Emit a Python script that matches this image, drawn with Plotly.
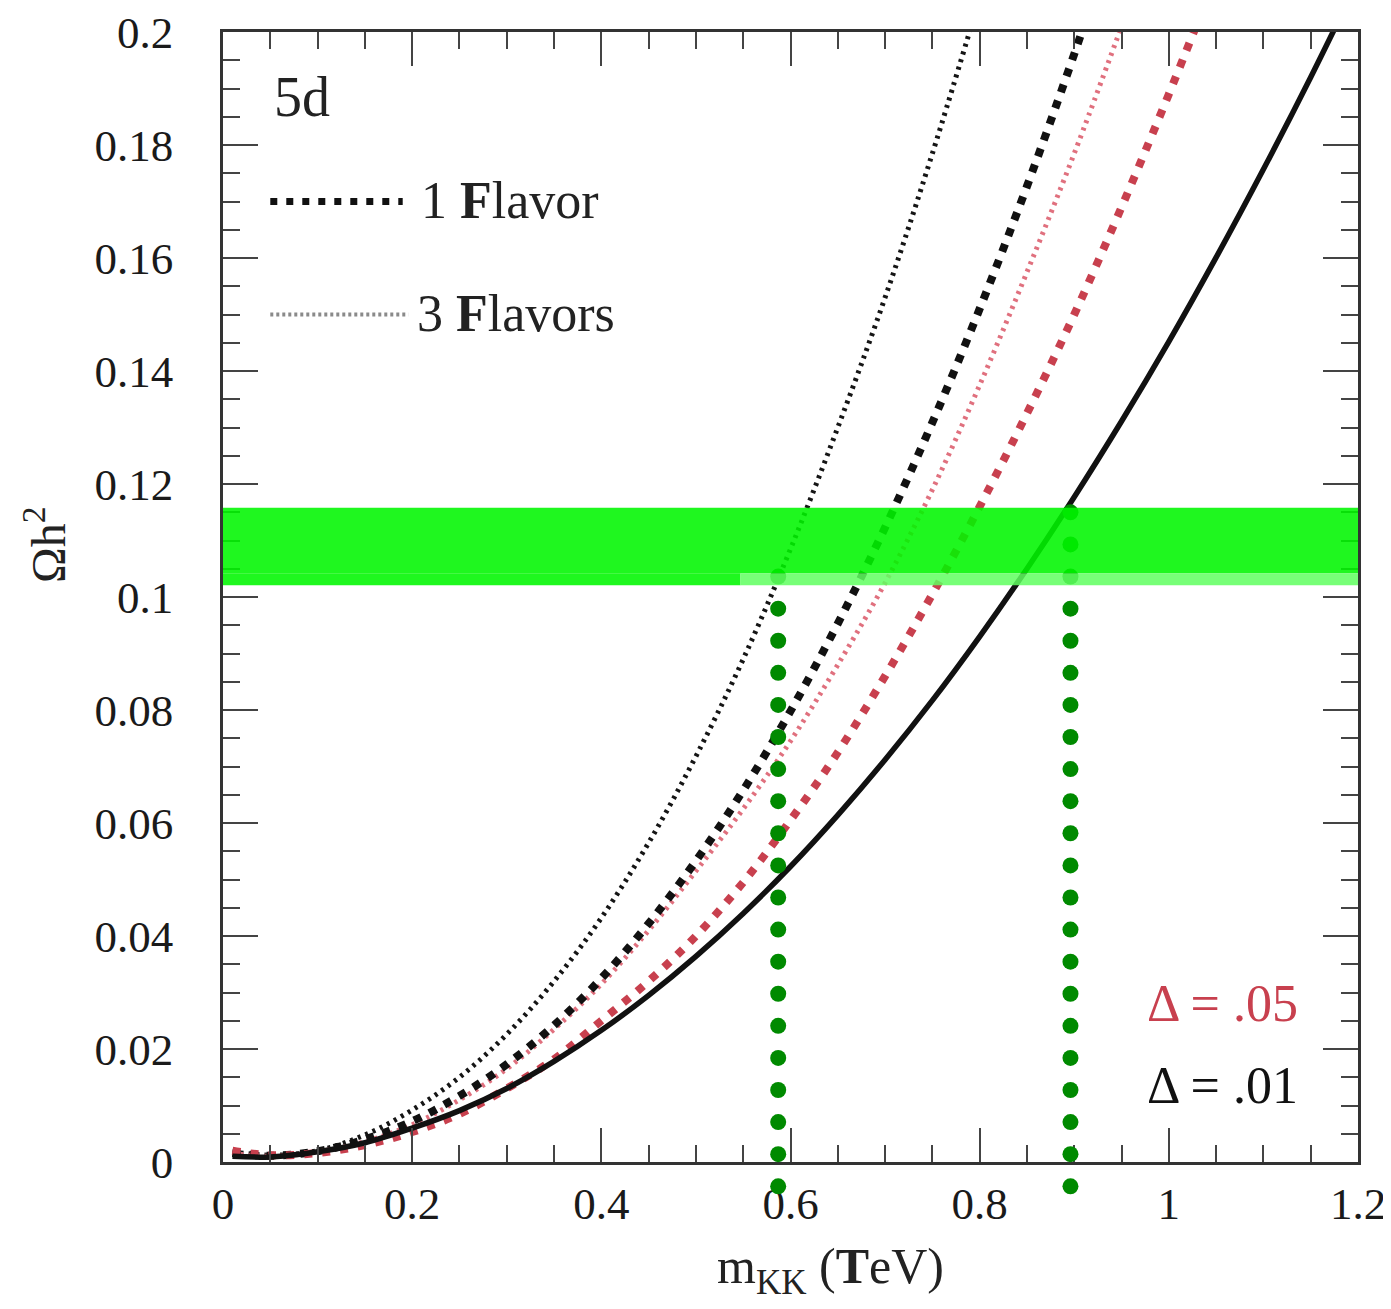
import plotly.graph_objects as go

# ---------------- data ----------------
m_solid = [0.01, 0.05, 0.1, 0.15, 0.2, 0.25, 0.3, 0.35, 0.4, 0.45, 0.5, 0.55, 0.6, 0.65, 0.7,
           0.75, 0.8, 0.85, 0.9, 0.95, 1.0, 1.05, 1.1, 1.15, 1.2]
om_solid = [0.0010, 0.0009, 0.0018, 0.0034, 0.0060, 0.0091, 0.0130, 0.0178, 0.0233, 0.0295,
            0.0364, 0.0440, 0.0523, 0.0614, 0.0712, 0.0817, 0.0930, 0.1050, 0.1177, 0.1311,
            0.1452, 0.1601, 0.1757, 0.1920, 0.2091]

m_3fl_d01 = [0.01, 0.05, 0.1, 0.15, 0.2, 0.25, 0.3, 0.35, 0.4, 0.45, 0.5, 0.55, 0.6, 0.65,
             0.7, 0.75, 0.8]
om_3fl_d01 = [0.0018, 0.0012, 0.0020, 0.0048, 0.0092, 0.0150, 0.0226, 0.0320, 0.0432, 0.0565,
              0.0718, 0.0890, 0.1085, 0.1300, 0.1530, 0.1785, 0.2060]

m_1fl_d01 = [0.01, 0.05, 0.1, 0.15, 0.2, 0.25, 0.3, 0.35, 0.4, 0.45, 0.5, 0.55, 0.6, 0.65,
             0.7, 0.75, 0.8, 0.85, 0.9, 0.95]
om_1fl_d01 = [0.0016, 0.0011, 0.0019, 0.0040, 0.0072, 0.0117, 0.0173, 0.0242, 0.0325, 0.0422,
              0.0533, 0.0658, 0.0798, 0.0953, 0.1123, 0.1309, 0.1510, 0.1727, 0.1961, 0.2211]

m_3fl_d05 = [0.01, 0.05, 0.1, 0.15, 0.2, 0.25, 0.3, 0.35, 0.4, 0.45, 0.5, 0.55, 0.6, 0.65,
             0.7, 0.75, 0.8, 0.85, 0.9, 0.95]
om_3fl_d05 = [0.0015, 0.0010, 0.0018, 0.0036, 0.0066, 0.0110, 0.0165, 0.0235, 0.0315, 0.0410,
              0.0515, 0.0625, 0.0745, 0.0880, 0.1025, 0.1190, 0.1375, 0.1575, 0.1785, 0.2010]

m_1fl_d05 = [0.01, 0.05, 0.1, 0.15, 0.2, 0.25, 0.3, 0.35, 0.4, 0.45, 0.5, 0.55, 0.6, 0.65,
             0.7, 0.75, 0.8, 0.85, 0.9, 0.95, 1.0, 1.05]
om_1fl_d05 = [0.0020, 0.0012, 0.0016, 0.0030, 0.0053, 0.0085, 0.0130, 0.0182, 0.0250, 0.0320,
              0.0400, 0.0495, 0.0605, 0.0725, 0.0860, 0.1005, 0.1160, 0.1325, 0.1500, 0.1690,
              0.1890, 0.2100]

# WMAP band
band_low, band_edge, band_high = 0.1021, 0.1042, 0.1158
band_split_m = 0.547

# vertical markers (allowed mass values)
m_lines = [0.587, 0.896]
line_tops = [0.1037, 0.1150]
dot_bottom = -0.0043
dot_step = 0.00568

x_range = [0, 1.2]
y_range = [0, 0.2]
x_ticks = [0, 0.2, 0.4, 0.6, 0.8, 1.0, 1.2]
y_ticks = [0, 0.02, 0.04, 0.06, 0.08, 0.1, 0.12, 0.14, 0.16, 0.18, 0.2]

# ---------------- layout geometry ----------------
# the page body adds an 8 px margin around the figure
W, H = 1383, 1293
ML, MR, MT, MB = 215, 33, 24, 99
OFF = 8
plot_w = W - ML - MR                      # 1135
plot_h = H - MT - MB                      # 1170
axis_bottom_px = 40                       # main x axis sits 40 px above the paper bottom
y_dom0 = axis_bottom_px / plot_h
y_per_px = (y_range[1] - y_range[0]) / (plot_h - axis_bottom_px)
y2_range = [y_range[0] - axis_bottom_px * y_per_px, y_range[1]]
left_px, bottom_px = OFF + ML, OFF + MT + plot_h


def px_to_paper(px, py):
    return (px - left_px) / plot_w, (bottom_px - py) / plot_h


SERIF = "Liberation Serif, Times New Roman, DejaVu Serif, serif"
BLACK = "#111111"
RED = "#c8404e"
PINK = "#e0707e"
GREEN_DOT = "#008a00"

fig = go.Figure()

fig.add_trace(go.Scatter(x=m_3fl_d01, y=om_3fl_d01, mode="lines", line_shape="spline",
                         line=dict(color="#151515", width=5, dash="3px,5px"), showlegend=False))
fig.add_trace(go.Scatter(x=m_3fl_d05, y=om_3fl_d05, mode="lines", line_shape="spline",
                         line=dict(color=PINK, width=5, dash="3px,5px"), showlegend=False))
fig.add_trace(go.Scatter(x=m_1fl_d01, y=om_1fl_d01, mode="lines", line_shape="spline",
                         line=dict(color=BLACK, width=8, dash="8px,9px"), showlegend=False))
fig.add_trace(go.Scatter(x=m_1fl_d05, y=om_1fl_d05, mode="lines", line_shape="spline",
                         line=dict(color=RED, width=8, dash="8px,10px"), showlegend=False))
fig.add_trace(go.Scatter(x=m_solid, y=om_solid, mode="lines", line_shape="spline",
                         line=dict(color=BLACK, width=5.5), showlegend=False))

# green dotted vertical lines (dots evenly spaced), on an overlay subplot that reaches below the axis
for mx, top in zip(m_lines, line_tops):
    n = int(round((top - dot_bottom) / dot_step)) + 1
    ys = [dot_bottom + i * dot_step for i in range(n)]
    fig.add_trace(go.Scatter(x=[mx] * n, y=ys, mode="markers", xaxis="x2", yaxis="y2",
                             marker=dict(color=GREEN_DOT, size=16, line=dict(width=0)),
                             cliponaxis=False, showlegend=False))

shapes = [
    dict(type="rect", xref="x", yref="y", x0=0, x1=1.2, y0=band_edge, y1=band_high,
         fillcolor="rgba(0,246,0,0.88)", line=dict(width=0), layer="above"),
    dict(type="rect", xref="x", yref="y", x0=0, x1=band_split_m, y0=band_low, y1=band_edge,
         fillcolor="rgba(0,246,0,0.88)", line=dict(width=0), layer="above"),
    dict(type="rect", xref="x", yref="y", x0=band_split_m, x1=1.2, y0=band_low, y1=band_edge,
         fillcolor="rgba(95,255,95,0.85)", line=dict(width=0), layer="above"),
    # legend samples
    dict(type="line", xref="x", yref="y", x0=0.050, x1=0.190, y0=0.1700, y1=0.1700,
         line=dict(color=BLACK, width=7, dash="7px,9px")),
    dict(type="line", xref="x", yref="y", x0=0.050, x1=0.196, y0=0.1500, y1=0.1500,
         line=dict(color="#8a8a8a", width=4, dash="3px,3px")),
]

xt_x, xt_y = px_to_paper(830, 1270)
yt_x, yt_y = px_to_paper(45, 545)

annotations = [
    dict(x=0.052, y=0.1885, xref="x", yref="y", text="5d", showarrow=False, xanchor="left",
         font=dict(family=SERIF, size=56, color="#222222")),
    dict(x=0.207, y=0.1702, xref="x", yref="y", text="1 <b>F</b>lavor", showarrow=False,
         xanchor="left", font=dict(family=SERIF, size=52, color="#222222")),
    dict(x=0.203, y=0.1502, xref="x", yref="y", text="3 <b>F</b>lavors", showarrow=False,
         xanchor="left", font=dict(family=SERIF, size=52, color="#222222")),
    dict(x=0.975, y=0.0281, xref="x", yref="y", text="Δ = .05", showarrow=False,
         xanchor="left", font=dict(family=SERIF, size=52, color=RED)),
    dict(x=0.975, y=0.0136, xref="x", yref="y", text="Δ = .01", showarrow=False,
         xanchor="left", font=dict(family=SERIF, size=52, color="#111111")),
    dict(x=xt_x, y=xt_y, xref="paper", yref="paper",
         text="m<sub>KK</sub> (<b>T</b>eV)", showarrow=False, xanchor="center", yanchor="middle",
         font=dict(family=SERIF, size=50, color="#222222")),
    dict(x=yt_x, y=yt_y, xref="paper", yref="paper",
         text="Ωh<sup>2</sup>", showarrow=False, textangle=-90, xanchor="center",
         yanchor="middle", font=dict(family=SERIF, size=48, color="#222222")),
]

axis_common = dict(
    showgrid=False, zeroline=False, showline=True, linecolor="#333333", linewidth=2.5,
    mirror="ticks", ticks="inside", tickcolor="#444444", tickwidth=2, automargin=False,
    ticklabeloverflow="allow",
    tickfont=dict(family=SERIF, size=45, color="#1a1a1a"),
)

fig.update_layout(
    width=W, height=H,
    margin=dict(l=ML, r=MR, t=MT, b=MB),
    paper_bgcolor="white", plot_bgcolor="rgba(0,0,0,0)",
    xaxis=dict(range=x_range, tickvals=x_ticks, ticklen=34, anchor="y",
               minor=dict(dtick=0.05, tick0=0, ticklen=17, ticks="inside",
                          tickcolor="#444444", tickwidth=2),
               ticklabelstandoff=0, **axis_common),
    yaxis=dict(range=y_range, tickvals=y_ticks, ticklen=35, domain=[y_dom0, 1], anchor="x",
               minor=dict(dtick=0.005, tick0=0, ticklen=17, ticks="inside",
                          tickcolor="#444444", tickwidth=2),
               ticklabelstandoff=38, **axis_common),
    xaxis2=dict(range=x_range, domain=[0, 1], anchor="y2", visible=False, showgrid=False,
                zeroline=False),
    yaxis2=dict(range=y2_range, domain=[0, 1], anchor="x2", visible=False, showgrid=False,
                zeroline=False),
    shapes=shapes,
    annotations=annotations,
)

fig.write_html("out.html")
